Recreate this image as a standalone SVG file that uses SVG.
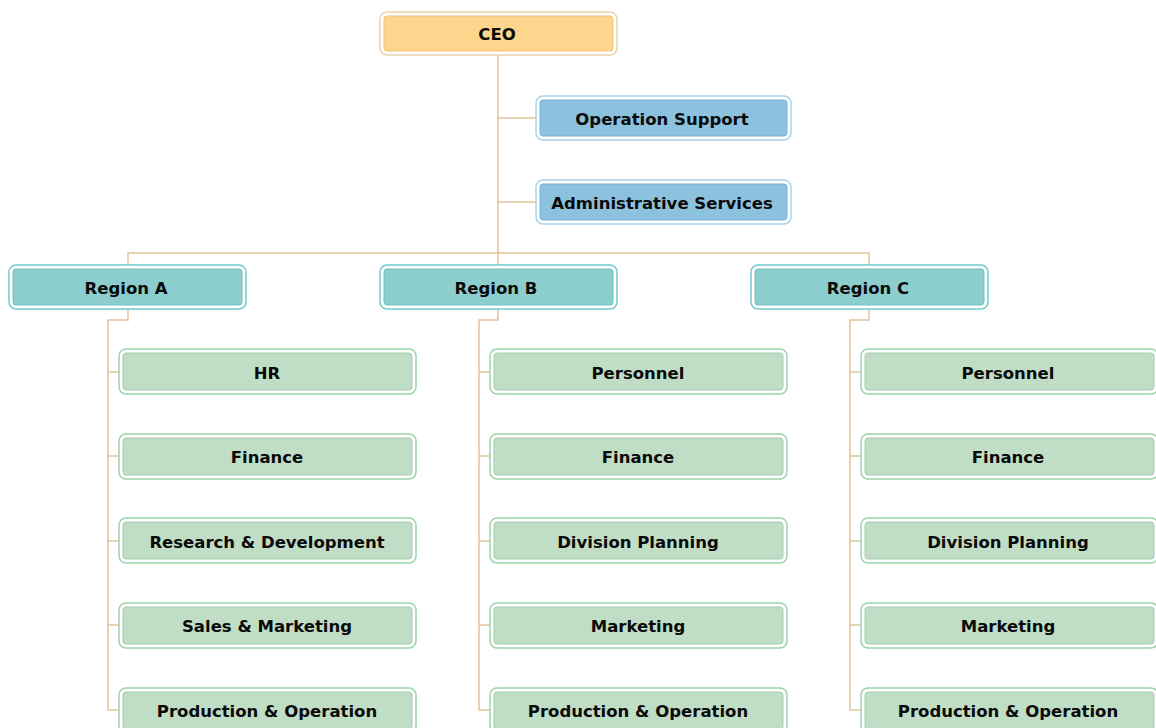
<svg xmlns="http://www.w3.org/2000/svg" width="1156" height="728" viewBox="0 0 1156 728">
  <style>
    .frame { fill: #ffffff; stroke-width: 1.5; }
    .fill { stroke-width: 1; }
    .ceo .frame { stroke: #ecd2ad; }
    .ceo .fill { fill: #fdd58c; stroke: #f1c47a; }
    .staff .frame { stroke: #a9d3e8; }
    .staff .fill { fill: #8cc2dd; stroke: #78b3d1; }
    .region .frame { stroke: #73c9cb; }
    .region .fill { fill: #8ccdce; stroke: #72bfc0; }
    .dept .frame { stroke: #9cd3a9; }
    .dept .fill { fill: #c0ddc6; stroke: #a6cdb0; }
    text { font-family: "DejaVu Sans", Verdana, sans-serif; font-weight: bold; font-size: 16.5px; fill: #0a0a0a; text-anchor: middle; dominant-baseline: central; }
    .links path { fill: none; stroke: #e0c399; stroke-width: 1.5; }
  </style>

  <g class="links">
    <!-- CEO trunk and staff branches -->
    <path d="M498 55 V253"/>
    <path d="M498 118 H536"/>
    <path d="M498 202 H536"/>
    <!-- region bus -->
    <path d="M128 265 V253 H869 V265"/>
    <path d="M498 253 V265"/>
    <!-- Region A departments -->
    <path d="M128 309 V320 H108 V710 H119"/>
    <path d="M108 372 H119 M108 456 H119 M108 541 H119 M108 625 H119"/>
    <!-- Region B departments -->
    <path d="M498 309 V320 H479 V710 H490"/>
    <path d="M479 372 H490 M479 456 H490 M479 541 H490 M479 625 H490"/>
    <!-- Region C departments -->
    <path d="M869 309 V320 H850 V710 H861"/>
    <path d="M850 372 H861 M850 456 H861 M850 541 H861 M850 625 H861"/>
  </g>

  <g id="ceo" class="ceo">
    <rect class="frame" x="380" y="12" width="237" height="43" rx="7"/>
    <rect class="fill" x="384" y="16" width="229" height="35" rx="3"/>
    <text x="497" y="34">CEO</text>
  </g>

  <g id="operation-support" class="staff">
    <rect class="frame" x="536" y="96" width="255" height="44" rx="7"/>
    <rect class="fill" x="540" y="100" width="247" height="36" rx="3"/>
    <text x="662" y="119">Operation Support</text>
  </g>
  <g id="administrative-services" class="staff">
    <rect class="frame" x="536" y="180" width="255" height="44" rx="7"/>
    <rect class="fill" x="540" y="184" width="247" height="36" rx="3"/>
    <text x="662" y="203">Administrative Services</text>
  </g>

  <g id="region-a" class="region">
    <rect class="frame" x="9" y="265" width="237" height="44" rx="7"/>
    <rect class="fill" x="13" y="269" width="229" height="36" rx="3"/>
    <text x="126" y="288">Region A</text>
  </g>
  <g id="region-b" class="region">
    <rect class="frame" x="380" y="265" width="237" height="44" rx="7"/>
    <rect class="fill" x="384" y="269" width="229" height="36" rx="3"/>
    <text x="496" y="288">Region B</text>
  </g>
  <g id="region-c" class="region">
    <rect class="frame" x="751" y="265" width="237" height="44" rx="7"/>
    <rect class="fill" x="755" y="269" width="229" height="36" rx="3"/>
    <text x="868" y="288">Region C</text>
  </g>

  <!-- Region A departments -->
  <g id="a-hr" class="dept">
    <rect class="frame" x="119" y="349" width="297" height="45" rx="7"/>
    <rect class="fill" x="123" y="353" width="289" height="37" rx="3"/>
    <text x="267" y="373">HR</text>
  </g>
  <g id="a-finance" class="dept">
    <rect class="frame" x="119" y="434" width="297" height="45" rx="7"/>
    <rect class="fill" x="123" y="438" width="289" height="37" rx="3"/>
    <text x="267" y="457">Finance</text>
  </g>
  <g id="a-rd" class="dept">
    <rect class="frame" x="119" y="518" width="297" height="45" rx="7"/>
    <rect class="fill" x="123" y="522" width="289" height="37" rx="3"/>
    <text x="267" y="542">Research &amp; Development</text>
  </g>
  <g id="a-sales" class="dept">
    <rect class="frame" x="119" y="603" width="297" height="45" rx="7"/>
    <rect class="fill" x="123" y="607" width="289" height="37" rx="3"/>
    <text x="267" y="626">Sales &amp; Marketing</text>
  </g>
  <g id="a-production" class="dept">
    <rect class="frame" x="119" y="688" width="297" height="45" rx="7"/>
    <rect class="fill" x="123" y="692" width="289" height="37" rx="3"/>
    <text x="267" y="711">Production &amp; Operation</text>
  </g>

  <!-- Region B departments -->
  <g id="b-personnel" class="dept">
    <rect class="frame" x="490" y="349" width="297" height="45" rx="7"/>
    <rect class="fill" x="494" y="353" width="289" height="37" rx="3"/>
    <text x="638" y="373">Personnel</text>
  </g>
  <g id="b-finance" class="dept">
    <rect class="frame" x="490" y="434" width="297" height="45" rx="7"/>
    <rect class="fill" x="494" y="438" width="289" height="37" rx="3"/>
    <text x="638" y="457">Finance</text>
  </g>
  <g id="b-planning" class="dept">
    <rect class="frame" x="490" y="518" width="297" height="45" rx="7"/>
    <rect class="fill" x="494" y="522" width="289" height="37" rx="3"/>
    <text x="638" y="542">Division Planning</text>
  </g>
  <g id="b-marketing" class="dept">
    <rect class="frame" x="490" y="603" width="297" height="45" rx="7"/>
    <rect class="fill" x="494" y="607" width="289" height="37" rx="3"/>
    <text x="638" y="626">Marketing</text>
  </g>
  <g id="b-production" class="dept">
    <rect class="frame" x="490" y="688" width="297" height="45" rx="7"/>
    <rect class="fill" x="494" y="692" width="289" height="37" rx="3"/>
    <text x="638" y="711">Production &amp; Operation</text>
  </g>

  <!-- Region C departments -->
  <g id="c-personnel" class="dept">
    <rect class="frame" x="861" y="349" width="297" height="45" rx="7"/>
    <rect class="fill" x="865" y="353" width="289" height="37" rx="3"/>
    <text x="1008" y="373">Personnel</text>
  </g>
  <g id="c-finance" class="dept">
    <rect class="frame" x="861" y="434" width="297" height="45" rx="7"/>
    <rect class="fill" x="865" y="438" width="289" height="37" rx="3"/>
    <text x="1008" y="457">Finance</text>
  </g>
  <g id="c-planning" class="dept">
    <rect class="frame" x="861" y="518" width="297" height="45" rx="7"/>
    <rect class="fill" x="865" y="522" width="289" height="37" rx="3"/>
    <text x="1008" y="542">Division Planning</text>
  </g>
  <g id="c-marketing" class="dept">
    <rect class="frame" x="861" y="603" width="297" height="45" rx="7"/>
    <rect class="fill" x="865" y="607" width="289" height="37" rx="3"/>
    <text x="1008" y="626">Marketing</text>
  </g>
  <g id="c-production" class="dept">
    <rect class="frame" x="861" y="688" width="297" height="45" rx="7"/>
    <rect class="fill" x="865" y="692" width="289" height="37" rx="3"/>
    <text x="1008" y="711">Production &amp; Operation</text>
  </g>
</svg>
